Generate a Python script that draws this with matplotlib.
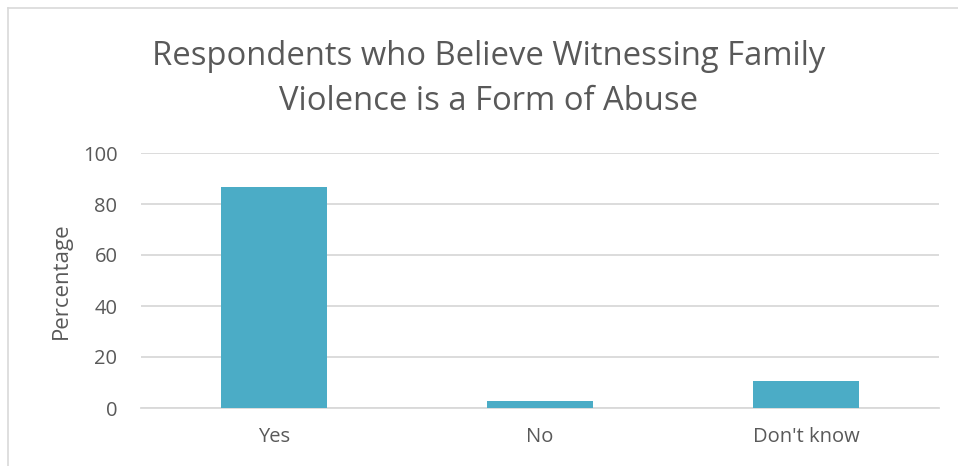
import matplotlib
matplotlib.use("Agg")
import matplotlib.pyplot as plt
from matplotlib.lines import Line2D

categories = ["Yes", "No", "Don't know"]
percentages = [86.6, 2.7, 10.7]
y_ticks = [0, 20, 40, 60, 80, 100]

TEXT = "#595959"
BAR = "#4BACC6"
GRID = "#D9D9D9"

plt.rcParams['font.family'] = ['Open Sans', 'DejaVu Sans']

W, H = 958, 466
fig = plt.figure(figsize=(W / 100, H / 100), dpi=100)
fig.patch.set_facecolor("white")

# plot area in pixel coords
left, right, top, bottom = 141, 939, 153, 408
ax = fig.add_axes([left / W, 1 - bottom / H, (right - left) / W, (bottom - top) / H])

x = list(range(len(categories)))
ax.bar(x, percentages, width=0.4, color=BAR, zorder=3)
ax.set_xlim(-0.5, len(categories) - 0.5)
ax.set_ylim(0, 100)
ax.set_yticks(y_ticks)
ax.set_xticks(x)
ax.set_xticklabels(categories)
ax.yaxis.grid(True, color=GRID, linewidth=1.3, zorder=0)
ax.set_axisbelow(True)
for s in ["top", "right", "left"]:
    ax.spines[s].set_visible(False)
ax.spines["bottom"].set_color(GRID)
ax.spines["bottom"].set_linewidth(1.3)
ax.tick_params(axis="both", length=0, colors=TEXT, labelsize=14.5)
ax.tick_params(axis="y", pad=17)
ax.tick_params(axis="x", pad=14)
ax.set_ylabel("Percentage", color=TEXT, fontsize=16, labelpad=8)

fig.text(489 / W, 1 - 79 / H, "Respondents who Believe Witnessing Family\nViolence is a Form of Abuse",
         ha="center", va="center", color=TEXT, fontsize=23.6, linespacing=1.5)

# chart border (top and left visible)
fig.add_artist(Line2D([8 / W, 1], [1 - 8 / H, 1 - 8 / H], color=GRID, linewidth=1.2, transform=fig.transFigure))
fig.add_artist(Line2D([8 / W, 8 / W], [0, 1 - 8 / H], color=GRID, linewidth=1.2, transform=fig.transFigure))

fig.savefig("out.png", dpi=100)
